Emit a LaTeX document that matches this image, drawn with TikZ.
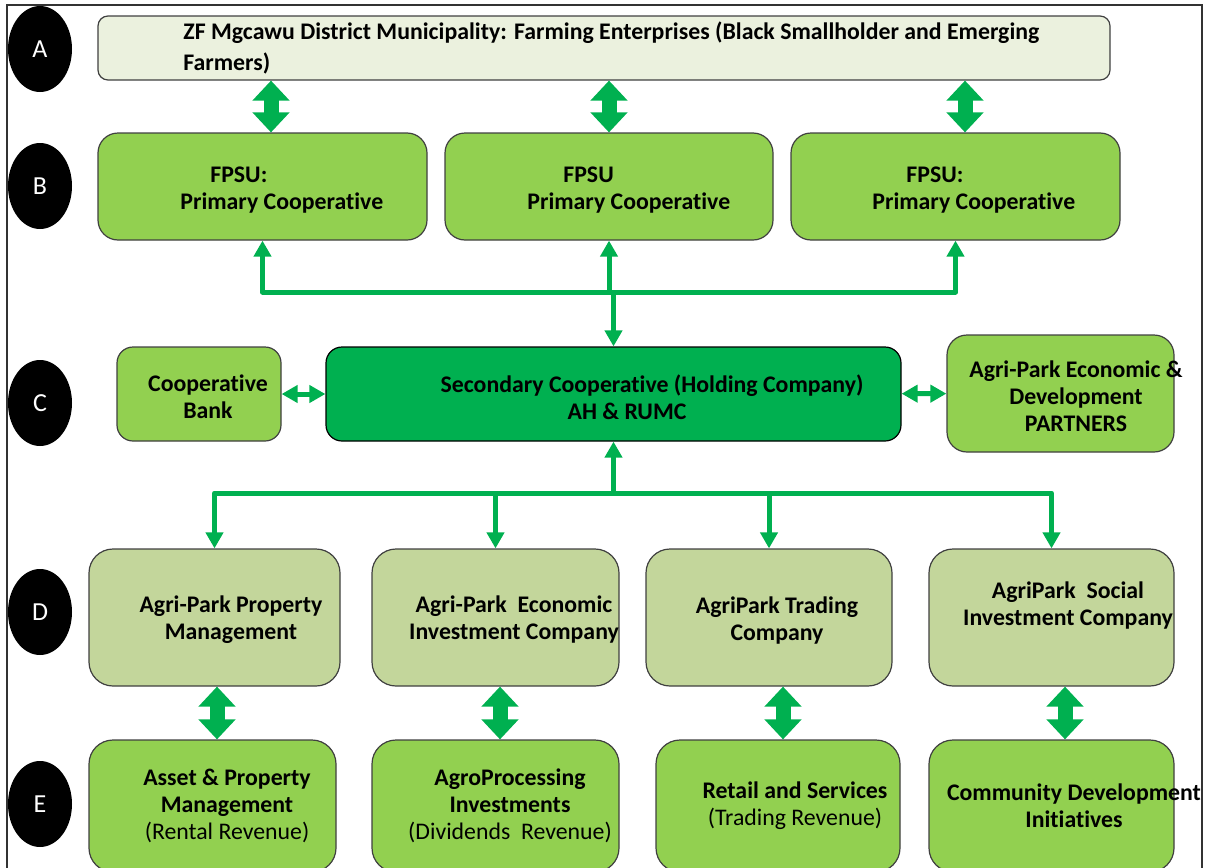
\documentclass[tikz,border=0pt]{standalone}
\usepackage{fontspec}
\setmainfont{Carlito}[Ligatures=NoCommon]
\usepackage{tikz}
\usetikzlibrary{arrows.meta,shapes.geometric,fit}

\definecolor{pale}{HTML}{EBF1DE}
\definecolor{leaf}{HTML}{92D050}
\definecolor{sage}{HTML}{C3D69B}
\definecolor{coopgreen}{HTML}{00B050}

\tikzset{
  tag/.style={ellipse, fill=black, text=white, minimum width=32pt, minimum height=43pt, inner sep=0pt, font=\fontsize{13}{15}\selectfont},
  box/.style={draw=black!75, line width=0.6pt, rounded corners=10pt, inner sep=0pt},
  lbl/.style={align=center, font=\fontsize{11.9}{13.5}\selectfont\bfseries, inner sep=0pt},
  fat/.style={draw=coopgreen, line width=7.5pt, {Triangle[width=18pt,length=10pt]}-{Triangle[width=18pt,length=10pt]}},
  bus/.style={draw=coopgreen, line width=2.5pt, line join=round},
  headed/.style={-{Triangle[width=8.5pt,length=8pt]}},
  both/.style={{Triangle[width=8.5pt,length=8pt]}-{Triangle[width=8.5pt,length=8pt]}},
}

\begin{document}
\begin{tikzpicture}[x={(0.5pt,0)}, y={(0,-0.5pt)}]
\useasboundingbox (0,0) rectangle (1208,867);
\draw[black!80, line width=0.8pt] (7,5) rectangle (1202,900);

% row tags
\node[tag] (tA) at (40,49) {A};
\node[tag] (tB) at (40,186) {B};
\node[tag] (tC) at (40,403) {C};
\node[tag] (tD) at (40,612) {D};
\node[tag] (tE) at (40,804) {E};

% A
\node[box, fill=pale, rounded corners=5pt, fit={(98,16) (1110,80)}] (farm) {};
\node[lbl, align=left, anchor=west] (farmt) at (183,48) {ZF Mgcawu District Municipality: Farming Enterprises (Black Smallholder and Emerging\\[2pt]Farmers)};

% B
\node[box, fill=leaf, fit={(98,133) (427,240)}] (fpsu1) {};
\node[box, fill=leaf, fit={(445,133) (773,240)}] (fpsu2) {};
\node[box, fill=leaf, fit={(791,133) (1120,240)}] (fpsu3) {};
\node[lbl, align=left, anchor=west] (fpsu1t) at (180,190) {\hspace*{15pt}FPSU:\\Primary Cooperative};
\node[lbl, align=left, anchor=west] (fpsu2t) at (527,190) {\hspace*{18pt}FPSU\\Primary Cooperative};
\node[lbl, align=left, anchor=west] (fpsu3t) at (872,190) {\hspace*{17pt}FPSU:\\Primary Cooperative};

% C
\node[box, fill=leaf, rounded corners=8pt, fit={(117,347) (281,441)}] (bank) {};
\node[box, fill=coopgreen, draw=black, rounded corners=8pt, fit={(326,347) (901,441)}] (secondary) {};
\node[box, fill=leaf, fit={(947,335) (1174,452)}] (partners) {};
\node[lbl] (bankt) at (208,397) {Cooperative\\Bank};
\node[lbl] (secondaryt) at (652,397) {Secondary Cooperative (Holding Company)\\AH \& RUMC\hspace*{25pt}};
\node[lbl] (partnerst) at (1076,396) {Agri-Park Economic \&\\Development\\PARTNERS};

% D
\node[box, fill=sage, rounded corners=12pt, fit={(89,549) (340,686)}] (dev1) {};
\node[box, fill=sage, rounded corners=12pt, fit={(372,549) (619,686)}] (dev2) {};
\node[box, fill=sage, rounded corners=12pt, fit={(646,549) (892,686)}] (dev3) {};
\node[box, fill=sage, rounded corners=12pt, fit={(929,549) (1174,686)}] (dev4) {};
\node[lbl] (dev1t) at (231,620) {Agri-Park Property\\Management};
\node[lbl] (dev2t) at (514,620) {Agri-Park~ Economic\\Investment Company};
\node[lbl] (dev3t) at (777,621) {AgriPark Trading\\Company};
\node[lbl] (dev4t) at (1068,606) {AgriPark~ Social\\Investment Company};

% E
\node[box, fill=leaf, rounded corners=12pt, fit={(89,740) (336,872)}] (out1) {};
\node[box, fill=leaf, rounded corners=12pt, fit={(372,740) (619,872)}] (out2) {};
\node[box, fill=leaf, rounded corners=12pt, fit={(656,740) (900,872)}] (out3) {};
\node[box, fill=leaf, rounded corners=12pt, fit={(929,740) (1174,872)}] (out4) {};
\node[lbl] (out1t) at (227,806) {Asset \& Property\\Management\\\mdseries(Rental Revenue)};
\node[lbl] (out2t) at (510,806) {AgroProcessing\\Investments\\\mdseries(Dividends~ Revenue)};
\node[lbl] (out3t) at (795,806) {Retail and Services\\\mdseries(Trading Revenue)};
\node[lbl] (out4t) at (1074,806) {Community Development\\Initiatives};

% block arrows
\draw[fat] ([xshift=4.25pt]fpsu1.north) -- ([xshift=4.25pt]fpsu1.north |- farm.south);
\draw[fat] (fpsu2.north) -- (fpsu2.north |- farm.south);
\draw[fat] ([xshift=4.75pt]fpsu3.north) -- ([xshift=4.75pt]fpsu3.north |- farm.south);
\draw[fat] ([xshift=1.25pt]dev1.south) -- ([xshift=1.25pt]dev1.south |- out1.north);
\draw[fat] ([xshift=2.25pt]dev2.south) -- ([xshift=2.25pt]dev2.south |- out2.north);
\draw[fat] ([xshift=7pt]dev3.south) -- ([xshift=7pt]dev3.south |- out3.north);
\draw[fat] ([xshift=6.75pt]dev4.south) -- ([xshift=6.75pt]dev4.south |- out4.north);

% bus lines
\coordinate (bus1) at (608,292);
\coordinate (bus2) at (613,493);
\draw[bus, both] (fpsu1.south) |- (bus1) -| (fpsu3.south);
\draw[bus, headed] (fpsu2.south |- bus1) -- (fpsu2.south);
\draw[bus, headed] (secondary.north |- bus1) -- (secondary.north);
\draw[bus, both] (dev1.north) |- (bus2) -| (dev4.north);
\draw[bus, headed] (dev2.north |- bus2) -- (dev2.north);
\draw[bus, headed] (dev3.north |- bus2) -- (dev3.north);
\draw[bus, headed] (secondary.south |- bus2) -- (secondary.south);
\draw[bus, both] (bank) -- (secondary);
\draw[bus, both] (secondary) -- (partners);
\end{tikzpicture}
\end{document}
